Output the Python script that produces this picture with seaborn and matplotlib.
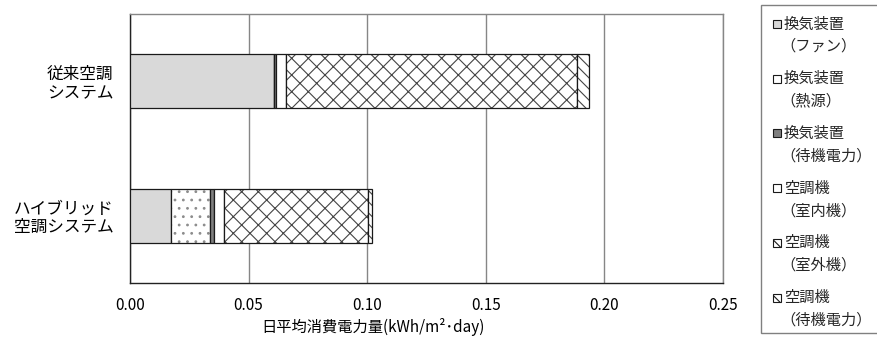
import numpy as np
import matplotlib
matplotlib.use("Agg")
import matplotlib.pyplot as plt
from matplotlib.colors import to_rgba
from matplotlib.patches import Rectangle
from matplotlib.ticker import FormatStrFormatter
import seaborn as sns

# --- data -------------------------------------------------------------
systems = ["従来空調\nシステム", "ハイブリッド\n空調システム"]
components = [
    ("換気装置", "（ファン）"),
    ("換気装置", "（熱源）"),
    ("換気装置", "（待機電力）"),
    ("空調機", "（室内機）"),
    ("空調機", "（室外機）"),
    ("空調機", "（待機電力）"),
]
vent_fan = [0.0607, 0.0172]
vent_heat = [0.0, 0.0167]
vent_standby = [0.0009, 0.0017]
ac_indoor = [0.0042, 0.0041]
ac_outdoor = [0.1227, 0.0606]
ac_standby = [0.0050, 0.0019]
xticks = [0.00, 0.05, 0.10, 0.15, 0.20, 0.25]
xlabel = "日平均消費電力量(kWh/m²･day)"

series = [vent_fan, vent_heat, vent_standby, ac_indoor, ac_outdoor, ac_standby]

# --- styles -----------------------------------------------------------
facecolors = ["#d9d9d9", "#ffffff", "#7f7f7f", "#ffffff", "#ffffff", "#ffffff"]
hatches = [None, "..", None, None, "xx", "\\\\\\"]
hatch_colors = ["#444444", "#8c8c8c", "#444444", "#444444", "#444444", "#444444"]
legend_hatches = [None, None, None, None, "\\\\", "\\\\\\"]
edge = "#1a1a1a"
W, H = 878, 345

sns.set_style("white")
plt.rcParams["font.family"] = ["Noto Sans CJK JP", "DejaVu Sans"]
plt.rcParams["hatch.linewidth"] = 0.8


def recolor_hatch(patch, color):
    if hasattr(patch, "set_hatchcolor"):
        patch.set_hatchcolor(color)
    else:
        patch._hatch_color = to_rgba(color)


fig = plt.figure(figsize=(W / 100, H / 100), dpi=100)
ax = fig.add_axes([130 / W, 1 - 283 / H, 593 / W, 269 / H])

left = np.zeros(len(systems))
for vals, fc, h, hc in zip(series, facecolors, hatches, hatch_colors):
    n_before = len(ax.patches)
    sns.barplot(x=vals, y=systems, orient="h", left=left, color=fc,
                saturation=1, width=0.4, errorbar=None, hatch=h,
                edgecolor=edge, linewidth=0.9, ax=ax, zorder=3)
    for p in ax.patches[n_before:]:
        recolor_hatch(p, hc)
    left = left + np.asarray(vals)

ax.set_xlim(0, 0.25)
ax.set_ylim(1.5, -0.5)
ax.set_xticks(xticks)
ax.xaxis.set_major_formatter(FormatStrFormatter("%.2f"))
ax.tick_params(axis="x", length=0, pad=10, labelsize=11, labelcolor="#000")
ax.tick_params(axis="y", which="major", length=0, pad=12, labelsize=12,
               labelcolor="#000")
for t in ax.get_yticklabels():
    t.set_linespacing(1.12)
ax.set_yticks([0.5], minor=True)
ax.tick_params(axis="y", which="minor", direction="in", length=5,
               color="#808080", width=1)
ax.set_ylabel("")
ax.set_xlabel(xlabel, fontsize=11, color="#000")
ax.xaxis.set_label_coords((373 - 130) / 593, (283 - 327) / 269)
ax.xaxis.label.set_va("center")

ax.xaxis.grid(True, color="#868686", linewidth=1)
ax.set_axisbelow(True)
for side in ["top", "right"]:
    ax.spines[side].set_color("#868686")
    ax.spines[side].set_linewidth(1)
for side in ["left", "bottom"]:
    ax.spines[side].set_color("#222222")
    ax.spines[side].set_linewidth(1)

# --- legend box -------------------------------------------------------
fig.add_artist(Rectangle((761 / W, 1 - 333 / H), 0.2, 328 / H,
                         transform=fig.transFigure, facecolor="white",
                         edgecolor="#808080", linewidth=1))
pitch, gap, y0 = 54.7, 22.5, 24
for i, ((l1, l2), fc, h) in enumerate(zip(components, facecolors,
                                          legend_hatches)):
    yc = y0 + i * pitch
    fig.add_artist(Rectangle((773 / W, 1 - (yc + 4) / H), 8 / W, 8 / H,
                             transform=fig.transFigure, facecolor=fc,
                             hatch=h, edgecolor=edge, linewidth=0.8))
    fig.text(784 / W, 1 - yc / H, l1, fontsize=11, va="center", ha="left")
    fig.text(780 / W, 1 - (yc + gap) / H, l2, fontsize=11, va="center",
             ha="left")

fig.savefig("out.png", dpi=100)
